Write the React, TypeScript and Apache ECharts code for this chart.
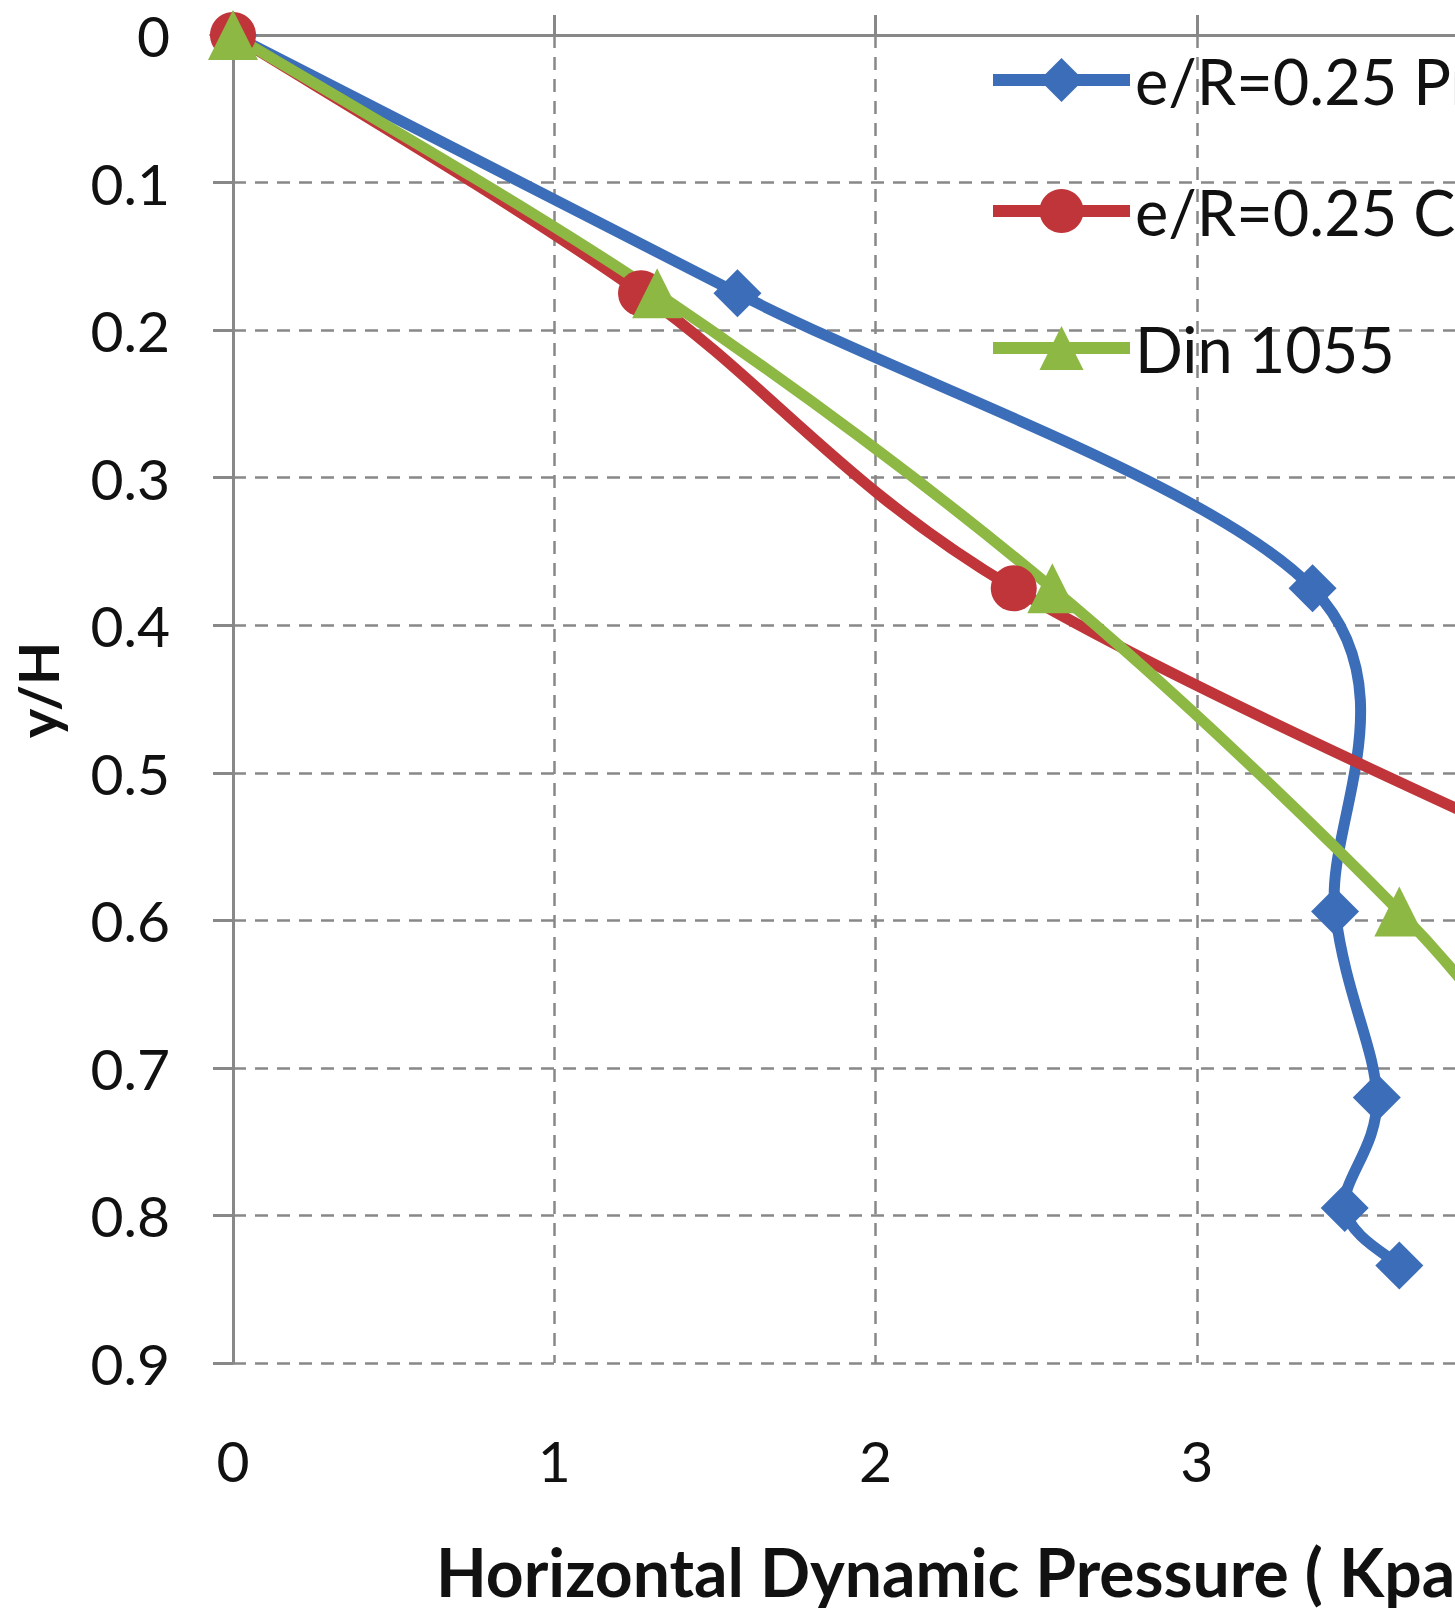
import React, { useEffect, useRef } from "react";
import * as echarts from "echarts";

// ---- data ----
const seriesNames = ["e/R=0.25 Present study", "e/R=0.25 Code", "Din 1055"];
const seriesColors = ["#3C6DB8", "#BF3539", "#8DB843"];
const seriesSymbols = ["diamond", "circle", "triangle"];

const blueX = [0, 1.57, 3.36, 3.43, 3.56, 3.46, 3.63];
const blueY = [0, 0.175, 0.375, 0.594, 0.72, 0.795, 0.834];
const redX = [0, 1.27, 2.43, 4.5];
const redY = [0, 0.175, 0.375, 0.594];
const greenX = [0, 1.32, 2.55, 3.63, 4.1];
const greenY = [0, 0.175, 0.375, 0.594, 0.72];

const xMin = 0;
const xMax = 6;
const xStep = 1;
const yMin = 0;
const yMax = 0.9;
const yStep = 0.1;

const xTitle = "Horizontal Dynamic Pressure ( Kpa )";
const yTitle = "y/H";

const FONT = "Lato, 'Open Sans', sans-serif";

export default function App() {
  const ref = useRef<HTMLDivElement>(null);

  useEffect(() => {
    if (!ref.current) return;
    const chart = echarts.init(ref.current, undefined, { renderer: "svg" });

    const unit = 321.3;
    const gridColor = "#888888";
    const lineWidth = 11;

    const seriesData = [
      blueX.map((x, i) => [x, blueY[i]]),
      redX.map((x, i) => [x, redY[i]]),
      greenX.map((x, i) => [x, greenY[i]]),
    ];
    const symbolSizes = [48, 46, 50];
    const legendCenters = [76, 207, 344];
    const legendItemH = 55;

    // Excel-like smoothed line: cubic Bezier segments between consecutive
    // points with Catmull-Rom control points, computed in pixel space.
    const makeCurveSeries = (k: number) => {
      const pts = seriesData[k];
      return {
        name: "_curve" + k,
        type: "custom",
        xAxisIndex: 0,
        yAxisIndex: 0,
        data: pts,
        encode: { x: 0, y: 1 },
        silent: true,
        renderItem: (params: any, api: any) => {
          const i = params.dataIndex;
          if (i >= pts.length - 1) return null;
          const c = (j: number) =>
            api.coord(pts[Math.max(0, Math.min(pts.length - 1, j))]);
          const p0 = c(i - 1);
          const p1 = c(i);
          const p2 = c(i + 1);
          const p3 = c(i + 2);
          return {
            type: "bezierCurve",
            shape: {
              x1: p1[0],
              y1: p1[1],
              cpx1: p1[0] + (p2[0] - p0[0]) / 6,
              cpy1: p1[1] + (p2[1] - p0[1]) / 6,
              cpx2: p2[0] - (p3[0] - p1[0]) / 6,
              cpy2: p2[1] - (p3[1] - p1[1]) / 6,
              x2: p2[0],
              y2: p2[1],
            },
            style: {
              stroke: seriesColors[k],
              lineWidth: lineWidth,
              fill: "none",
              lineCap: "round",
              lineJoin: "round",
            },
          };
        },
      };
    };

    const markerSeries = (k: number) => ({
      name: seriesNames[k],
      type: "line",
      xAxisIndex: 0,
      yAxisIndex: 0,
      data: seriesData[k],
      symbol: seriesSymbols[k],
      symbolSize: symbolSizes[k],
      lineStyle: { width: lineWidth, color: seriesColors[k], opacity: 0 },
      itemStyle: { color: seriesColors[k] },
    });

    const series: any[] = [];
    for (let k = 0; k < 3; k++) {
      series.push(makeCurveSeries(k));
      series.push(markerSeries(k));
    }

    const option: any = {
      animation: false,
      backgroundColor: "#ffffff",
      textStyle: { fontFamily: FONT },
      grid: { left: 233, top: 35, width: unit * (xMax - xMin), height: 1328 },
      xAxis: [
        {
          type: "value",
          position: "top",
          min: xMin,
          max: xMax,
          interval: xStep,
          axisLine: { show: true, onZero: false, lineStyle: { color: gridColor, width: 3 } },
          axisTick: { show: true, length: 20, lineStyle: { color: gridColor, width: 3 } },
          axisLabel: { show: false },
          splitLine: {
            show: true,
            showMinLine: false,
            lineStyle: { color: gridColor, width: 2.5, type: [13, 9] },
          },
        },
        {
          type: "value",
          position: "bottom",
          min: xMin,
          max: xMax,
          interval: xStep,
          axisLine: { show: false, onZero: false },
          axisTick: { show: false },
          axisLabel: {
            show: true,
            margin: 68,
            fontSize: 57,
            color: "#111",
            fontFamily: FONT,
          },
          splitLine: { show: false },
        },
      ],
      yAxis: {
        type: "value",
        inverse: true,
        min: yMin,
        max: yMax,
        interval: yStep,
        axisLine: { show: true, onZero: false, lineStyle: { color: gridColor, width: 3 } },
        axisTick: { show: true, length: 20, lineStyle: { color: gridColor, width: 3 } },
        axisLabel: {
          margin: 63,
          fontSize: 57,
          color: "#111",
          fontFamily: FONT,
          formatter: (v: number) => (v === 0 ? "0" : v.toFixed(1)),
        },
        splitLine: {
          show: true,
          showMinLine: false,
          lineStyle: { color: gridColor, width: 2.5, type: [13, 9] },
        },
      },
      legend: seriesNames.map((n, i) => ({
        data: [n],
        left: 987,
        top: legendCenters[i] - legendItemH / 2,
        padding: 0,
        itemWidth: 137,
        itemHeight: legendItemH,
        selectedMode: false,
        lineStyle: { width: 12, opacity: 1 },
        textStyle: { fontSize: 63, color: "#111", fontFamily: FONT },
      })),
      graphic: [
        {
          type: "text",
          x: 37,
          y: 690,
          rotation: Math.PI / 2,
          style: {
            text: yTitle,
            fontSize: 56,
            fontWeight: "bold",
            fontFamily: FONT,
            fill: "#111",
            align: "center",
            verticalAlign: "middle",
          },
        },
        {
          type: "text",
          x: 436,
          y: 1571,
          style: {
            text: xTitle,
            fontSize: 66,
            fontWeight: "bold",
            fontFamily: FONT,
            fill: "#111",
            align: "left",
            verticalAlign: "middle",
          },
        },
      ],
      series,
    };

    chart.setOption(option);
    return () => {
      chart.dispose();
    };
  }, []);

  return (
    <div
      style={{
        position: "fixed",
        left: 0,
        top: 0,
        width: 1455,
        height: 1608,
        overflow: "hidden",
        background: "#fff",
      }}
    >
      <div ref={ref} style={{ width: 2220, height: 1608 }} />
    </div>
  );
}
